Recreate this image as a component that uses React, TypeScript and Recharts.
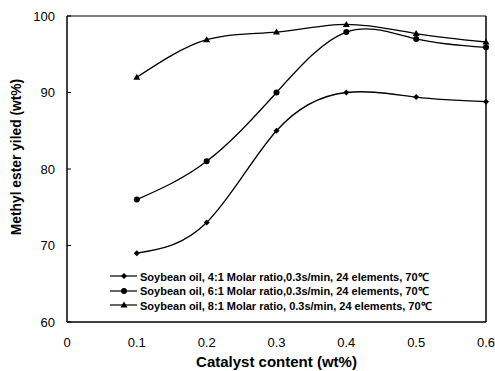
import React from 'react';
import {
  LineChart,
  Line,
  XAxis,
  YAxis,
  ReferenceLine,
} from 'recharts';

// catalyst content (wt%)
const catalyst = [0.1, 0.2, 0.3, 0.4, 0.5, 0.6];
// methyl ester yield (wt%) per molar ratio
const ratio4 = [69, 73, 85, 90, 89.4, 88.8];
const ratio6 = [76, 81, 90, 97.9, 97.0, 95.9];
const ratio8 = [92, 96.9, 97.9, 98.9, 97.7, 96.6];

const xTicks = [0, 0.1, 0.2, 0.3, 0.4, 0.5, 0.6];
const yTicks = [60, 70, 80, 90, 100];

const seriesNames = [
  'Soybean oil, 4:1 Molar ratio,0.3s/min, 24 elements, 70\u2103',
  'Soybean oil, 6:1 Molar ratio,0.3s/min, 24 elements, 70\u2103',
  'Soybean oil, 8:1 Molar ratio, 0.3s/min, 24 elements, 70\u2103',
];

const data = catalyst.map((c, i) => ({
  c,
  r4: ratio4[i],
  r6: ratio6[i],
  r8: ratio8[i],
}));

const FONT = '"Liberation Sans", Arial, sans-serif';

// marker shapes
const Diamond = ({ cx, cy }: any) => (
  <path d={`M${cx},${cy - 3}L${cx + 3},${cy}L${cx},${cy + 3}L${cx - 3},${cy}Z`} fill="#000" />
);
const Dot = ({ cx, cy }: any) => <circle cx={cx} cy={cy} r={3} fill="#000" />;
const Tri = ({ cx, cy }: any) => (
  <path d={`M${cx},${cy - 3.5}L${cx + 3.5},${cy + 2.5}L${cx - 3.5},${cy + 2.5}Z`} fill="#000" />
);

const markers = [Diamond, Dot, Tri];

const LegendBox = () => (
  <div
    style={{
      position: 'absolute',
      left: 110,
      top: 269,
      fontFamily: FONT,
      fontSize: 11,
      fontWeight: 'bold',
      color: '#000',
    }}
  >
    {seriesNames.map((n, i) => {
      const M = markers[i];
      return (
        <div key={n} style={{ display: 'flex', alignItems: 'center', height: 14.5 }}>
          <svg width={28} height={10} style={{ marginRight: 2 }}>
            <line x1={0} y1={5} x2={27} y2={5} stroke="#000" strokeWidth={1.2} />
            <M cx={14} cy={5} />
          </svg>
          <span style={{ whiteSpace: 'nowrap' }}>{n}</span>
        </div>
      );
    })}
  </div>
);

const YTick = ({ x, y, payload }: any) => (
  <g>
    <line x1={x + 12} y1={y} x2={x + 16} y2={y} stroke="#000" strokeWidth={1} />
    <text x={x} y={y} dy={4.5} textAnchor="end" fontSize={13} fontFamily={FONT} fill="#000">
      {payload.value}
    </text>
  </g>
);

export default function App() {
  return (
    <div style={{ position: 'absolute', left: 0, top: 0, width: 495, height: 371, background: '#fff' }}>
      <LineChart
        width={495}
        height={371}
        data={data}
        margin={{ top: 16, right: 9, left: 0, bottom: 0 }}
      >
        <XAxis
          dataKey="c"
          type="number"
          domain={[0, 0.6]}
          ticks={xTicks}
          tickLine={false}
          tickMargin={10}
          height={49}
          stroke="#000"
          strokeWidth={1.5}
          tick={{ fontSize: 13, fontFamily: FONT, fill: '#000' }}
          label={{
            value: 'Catalyst content (wt%)',
            position: 'insideBottom',
            offset: 4,
            style: { fontSize: 15, fontWeight: 'bold', fontFamily: FONT, fill: '#000' },
          }}
        />
        <YAxis
          type="number"
          domain={[60, 100]}
          ticks={yTicks}
          width={67}
          tickSize={0}
          tickMargin={12}
          stroke="#000"
          strokeWidth={1.5}
          tick={<YTick />}
          label={{
            value: 'Methyl ester yiled (wt%)',
            angle: -90,
            position: 'insideLeft',
            offset: 16,
            dy: -12,
            style: { fontSize: 13.8, fontWeight: 'bold', fontFamily: FONT, fill: '#000', textAnchor: 'middle' },
          }}
        />
        <ReferenceLine y={100} stroke="#000" strokeWidth={1.2} />
        <ReferenceLine x={0.6} stroke="#000" strokeWidth={1.5} />
        <Line
          type="natural"
          dataKey="r4"
          stroke="#000"
          strokeWidth={1.3}
          dot={<Diamond />}
          isAnimationActive={false}
        />
        <Line
          type="natural"
          dataKey="r6"
          stroke="#000"
          strokeWidth={1.3}
          dot={<Dot />}
          isAnimationActive={false}
        />
        <Line
          type="natural"
          dataKey="r8"
          stroke="#000"
          strokeWidth={1.3}
          dot={<Tri />}
          isAnimationActive={false}
        />
      </LineChart>
      <LegendBox />
    </div>
  );
}
